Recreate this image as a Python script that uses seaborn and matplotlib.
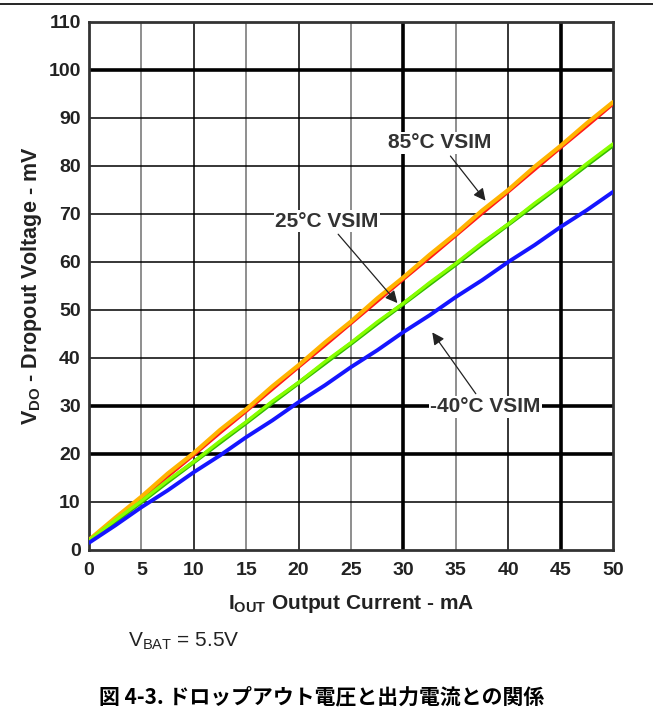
import matplotlib
matplotlib.use("Agg")
import matplotlib.pyplot as plt
from matplotlib.lines import Line2D
import seaborn as sns
import pandas as pd

# data (mA -> mV)
current_ma = [0, 2.5, 5, 7.5, 10, 12.5, 15, 17.5, 20, 22.5, 25,
              27.5, 30, 32.5, 35, 37.5, 40, 42.5, 45, 47.5, 50]
vdo_85c = [2.1, 6.7, 11.1, 15.9, 20.2, 25.0, 29.3, 34.1, 38.5, 43.2, 47.6,
           52.4, 56.8, 61.5, 65.9, 70.7, 75.0, 79.8, 84.2, 88.9, 93.3]
vdo_85c_sim = [1.7, 6.2, 10.7, 15.3, 19.8, 24.4, 28.9, 33.5, 38.1, 42.6, 47.2,
               51.8, 56.4, 60.9, 65.5, 70.1, 74.6, 79.2, 83.8, 88.3, 92.9]
vdo_25c = [2.0, 6.2, 10.2, 14.5, 18.4, 22.7, 26.7, 31.0, 34.9, 39.2, 43.2,
           47.5, 51.4, 55.7, 59.7, 64.0, 67.9, 72.2, 76.2, 80.5, 84.6]
vdo_25c_sim = [1.8, 5.9, 10.0, 14.2, 18.3, 22.4, 26.5, 30.7, 34.8, 38.9, 43.0,
               47.2, 51.3, 55.4, 59.5, 63.7, 67.8, 71.9, 76.0, 80.2, 84.3]
vdo_m40c = [1.5, 5.1, 8.9, 12.4, 16.2, 19.7, 23.5, 27.0, 30.8, 34.3, 38.1,
            41.6, 45.4, 48.9, 52.7, 56.2, 60.0, 63.5, 67.3, 70.8, 74.6]

x_ticks = list(range(0, 55, 5))
y_ticks = list(range(0, 120, 10))

series = {
    "85C": vdo_85c_sim,
    "85C VSIM": vdo_85c,
    "25C": vdo_25c_sim,
    "25C VSIM": vdo_25c,
    "-40C VSIM": vdo_m40c,
}
rows = []
for name, vals in series.items():
    for x, v in zip(current_ma, vals):
        rows.append({"I": x, "V": v, "s": name})
df = pd.DataFrame(rows)

palette = {"85C": "#ff1a1a", "85C VSIM": "#ffb400",
           "25C": "#33bb00", "25C VSIM": "#88ff00", "-40C VSIM": "#1515ff"}
widths = {"85C": 2.4, "85C VSIM": 3.0, "25C": 3.0, "25C VSIM": 2.4, "-40C VSIM": 2.8}

sns.set_theme(style="white")
plt.rcParams["font.family"] = ["Liberation Sans", "DejaVu Sans"]
plt.rcParams["mathtext.fontset"] = "custom"
plt.rcParams["mathtext.rm"] = "Liberation Sans"
plt.rcParams["mathtext.bf"] = "Liberation Sans:bold"

fig = plt.figure(figsize=(6.53, 7.08), dpi=100)
ax = fig.add_axes([0.1363, 0.2232, 0.8025, 0.7458])

# grid first so curves sit on top
thick_x = {30, 45}
gray_x = {5, 15, 25, 35}
for x in x_ticks[1:-1]:
    if x in thick_x:
        ax.axvline(x, color="black", lw=2.6, zorder=1)
    elif x in gray_x:
        ax.axvline(x, color="#707070", lw=1.1, zorder=1)
    else:
        ax.axvline(x, color="black", lw=1.1, zorder=1)
thick_y = {100, 30, 20}
for y in y_ticks[1:-1]:
    if y in thick_y:
        ax.axhline(y, color="black", lw=2.6, zorder=1)
    else:
        ax.axhline(y, color="black", lw=1.1, zorder=1)

for name in series:
    sns.lineplot(data=df[df["s"] == name], x="I", y="V", color=palette[name],
                 lw=widths[name], ax=ax, zorder=3)

ax.set_xlim(0, 50)
ax.set_ylim(0, 110)
ax.set_xticks(x_ticks)
ax.set_yticks(y_ticks)
ax.tick_params(axis="x", labelsize=14, length=0, pad=9, colors="#222222")
ax.tick_params(axis="y", labelsize=14, length=0, pad=6, colors="#222222")
for lab in ax.get_xticklabels() + ax.get_yticklabels():
    lab.set_fontweight("bold")
for sp in ax.spines.values():
    sp.set_color("#333333")
    sp.set_linewidth(2)
    sp.set_visible(True)

ax.set_xlabel(r"$\mathbf{I_{OUT}}$ Output Current - mA", fontsize=15,
              fontweight="bold", color="#222222", labelpad=10)
ax.set_ylabel(r"$\mathbf{V_{DO}}$ - Dropout Voltage - mV", fontsize=15.5,
              fontweight="bold", color="#222222", labelpad=3)

box = dict(facecolor="white", edgecolor="none", pad=1)
arrow = dict(arrowstyle="-|>", color="#222222", lw=0.9, mutation_scale=18)
ax.annotate("85°C VSIM", xy=(38.0, 72.3), xytext=(33.5, 84.8),
            ha="center", va="center", fontsize=15, fontweight="bold",
            color="#333333", bbox=box, arrowprops=arrow, zorder=5)
ax.annotate("25°C VSIM", xy=(29.6, 51.0), xytext=(22.7, 68.5),
            ha="center", va="center", fontsize=15, fontweight="bold",
            color="#333333", bbox=box, arrowprops=arrow, zorder=5)
ax.annotate("-40°C VSIM", xy=(32.6, 45.8), xytext=(37.8, 29.8),
            ha="center", va="center", fontsize=15, fontweight="bold",
            color="#333333", bbox=box, arrowprops=arrow, zorder=5)

fig.text(0.196, 0.094, r"$\mathregular{V_{BAT}}$ = 5.5V", fontsize=15,
         color="#222222", va="center")
fig.text(0.493, 0.016, "図 4-3. ドロップアウト電圧と出力電流との関係", fontsize=15,
         fontweight="bold", ha="center", va="center", color="black",
         family=["Noto Sans CJK JP", "DejaVu Sans"])
fig.add_artist(Line2D([0, 1], [0.994, 0.994], color="black", lw=1.2,
                      transform=fig.transFigure))

fig.savefig("out.png", dpi=100)
plt.close(fig)
